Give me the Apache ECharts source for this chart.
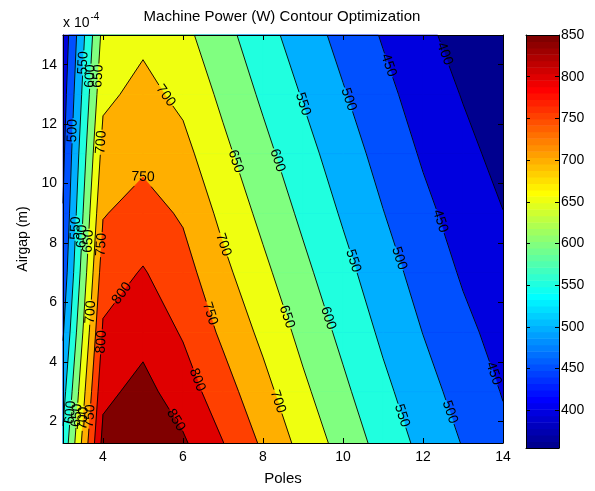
<!DOCTYPE html>
<html>
<head>
<meta charset="utf-8">
<script src="https://cdn.jsdelivr.net/npm/echarts@6/dist/echarts.min.js"></script>
<style>
html,body{margin:0;padding:0;background:#fff;}
#chart{width:595px;height:491px;}
</style>
</head>
<body>
<div id="chart"></div>
<script>
// Grid of the optimisation sweep
const poles = [3, 4, 5, 6, 7, 8, 9, 10, 11, 12, 13, 14];
const airgap = [1.27, 3, 5, 7, 9, 11, 13, 15]; // in units of 1e-4 m

// Machine power (W): one row per airgap value, one column per pole count
const power_g01 = [560, 865, 892, 857, 801, 742, 683.5, 630.6, 581.7, 536.1, 497.5, 461];
const power_g03 = [530, 838, 865.4, 825, 771.5, 716.3, 660.2, 610.2, 562, 518.9, 481.1, 447.4];
const power_g05 = [495, 807, 834.6, 795, 740.4, 688.1, 635.5, 587.6, 540.7, 499.1, 462.3, 432];
const power_g07 = [468, 776.7, 803.8, 769.7, 712.9, 661.5, 612.4, 565.7, 521.1, 480.7, 444.5, 416.4];
const power_g09 = [452, 746.9, 770.4, 743.7, 686.9, 637.2, 589.9, 544.3, 501.5, 462.4, 428.8, 400.9];
const power_g11 = [440, 718.3, 737, 715.1, 662.3, 614.4, 568.2, 524.1, 482.8, 444.5, 413.2, 385.3];
const power_g13 = [428, 689.7, 714, 688.3, 638.9, 591.7, 546.4, 504, 464.3, 427.5, 397.5, 369.8];
const power_g15 = [415, 665, 690, 663.3, 616.7, 569, 524.7, 483.9, 445.7, 410.6, 381.8, 354.8];
const powerRows = [power_g01, power_g03, power_g05, power_g07, power_g09, power_g11, power_g13, power_g15];

// Contour levels and tick labels
const levels = [400, 450, 500, 550, 600, 650, 700, 750, 800, 850];
const xTicks = [4, 6, 8, 10, 12, 14];
const yTicks = [2, 4, 6, 8, 10, 12, 14];
const cbTicks = [400, 450, 500, 550, 600, 650, 700, 750, 800, 850];

// Where each inline contour label sits: [level, poles, airgap]
const labelSpots = [
  [400, 12.47, 14.33],
  [450, 11.06, 13.94], [450, 12.39, 8.72], [450, 13.68, 3.57],
  [500, 10.02, 12.78], [500, 11.31, 7.44], [500, 12.6, 2.28], [500, 3.22, 11.78],
  [550, 8.85, 12.61], [550, 10.1, 7.33], [550, 11.43, 2.17], [550, 3.47, 14.06], [550, 3.31, 8.5],
  [600, 8.22, 10.72], [600, 9.56, 5.44], [600, 3.72, 13.61], [600, 3.47, 8.22], [600, 3.18, 2.3],
  [650, 7.26, 10.72], [650, 8.56, 5.5], [650, 3.92, 13.61], [650, 3.64, 8.06], [650, 3.35, 2.2],
  [700, 5.43, 12.83], [700, 7.01, 7.94], [700, 8.39, 2.67], [700, 3.97, 11.39], [700, 3.72, 5.67], [700, 3.51, 2.1],
  [750, 5.0, 10.3], [750, 6.64, 5.61], [750, 4.04, 7.94], [750, 3.72, 2.17],
  [800, 4.56, 6.22], [800, 6.35, 3.39], [800, 4.02, 4.67],
  [850, 5.77, 2.0]
];

const FONT = '"Liberation Sans", Arial, Helvetica, sans-serif';
const LABEL_SIZE = 14;

// MATLAB-style jet colormap with m entries
function buildJet(m) {
  const n = Math.ceil(m / 4);
  const u = [];
  for (let i = 1; i <= n; i++) u.push(i / n);
  for (let i = 1; i < n; i++) u.push(1);
  for (let i = n; i >= 1; i--) u.push(i / n);
  const g0 = Math.ceil(n / 2) - (m % 4 === 1 ? 1 : 0);
  const out = [];
  for (let k = 0; k < m; k++) out.push([0, 0, 0]);
  for (let i = 0; i < u.length; i++) {
    const g = g0 + i + 1, r = g + n, b = g - n;
    if (r >= 1 && r <= m) out[r - 1][0] = u[i];
    if (g >= 1 && g <= m) out[g - 1][1] = u[i];
    if (b >= 1 && b <= m) out[b - 1][2] = u[i];
  }
  return out;
}
const NCOL = 64;
const jetMap = buildJet(NCOL);
const cMin = Math.min.apply(null, powerRows.map(r => Math.min.apply(null, r)));
const cMax = levels[levels.length - 1];
function rgb(c) {
  return 'rgb(' + Math.round(c[0] * 255) + ',' + Math.round(c[1] * 255) + ',' + Math.round(c[2] * 255) + ')';
}
function colorOf(v) {
  let k = Math.floor((v - cMin) / (cMax - cMin) * NCOL);
  k = Math.max(0, Math.min(NCOL - 1, k));
  return rgb(jetMap[k]);
}

// Region of one grid cell where power >= L, plus where the L contour crosses the cell edges
function cellCut(L, i, j) {
  const cs = [
    [poles[i], airgap[j], powerRows[j][i]],
    [poles[i + 1], airgap[j], powerRows[j][i + 1]],
    [poles[i + 1], airgap[j + 1], powerRows[j + 1][i + 1]],
    [poles[i], airgap[j + 1], powerRows[j + 1][i]]
  ];
  const poly = [], cross = [];
  for (let k = 0; k < 4; k++) {
    const a = cs[k], b = cs[(k + 1) % 4];
    const ia = a[2] >= L, ib = b[2] >= L;
    if (ia) poly.push([a[0], a[1]]);
    if (ia !== ib) {
      const t = (L - a[2]) / (b[2] - a[2]);
      const p = [a[0] + t * (b[0] - a[0]), a[1] + t * (b[1] - a[1])];
      poly.push(p);
      cross.push(p);
    }
  }
  return { poly, cross };
}

function clipOutsideCircle(p, q, c, r) {
  const dx = q[0] - p[0], dy = q[1] - p[1];
  const fx = p[0] - c[0], fy = p[1] - c[1];
  const A = dx * dx + dy * dy, B = 2 * (fx * dx + fy * dy), C = fx * fx + fy * fy - r * r;
  const D = B * B - 4 * A * C;
  if (A === 0 || D <= 0) return [[p, q]];
  const s = Math.sqrt(D);
  const t1 = (-B - s) / (2 * A), t2 = (-B + s) / (2 * A);
  const a = Math.max(0, t1), b = Math.min(1, t2);
  if (a >= b) return [[p, q]];
  const out = [];
  const at = t => [p[0] + t * dx, p[1] + t * dy];
  if (a > 0) out.push([p, at(a)]);
  if (b < 1) out.push([at(b), q]);
  return out;
}

function orient(dx, dy) {
  const len = Math.hypot(dx, dy) || 1;
  dx /= len; dy /= len;
  if (dx < -1e-9 || (Math.abs(dx) <= 1e-9 && dy < 0)) { dx = -dx; dy = -dy; }
  return [dx, dy];
}

function renderContour(params, api) {
  const P = (x, y) => api.coord([x, y]);
  const children = [];
  const nx = poles.length, ny = airgap.length;
  const corners = [P(poles[0], airgap[0]), P(poles[nx - 1], airgap[0]), P(poles[nx - 1], airgap[ny - 1]), P(poles[0], airgap[ny - 1])];
  children.push({ type: 'polygon', shape: { points: corners }, style: { fill: colorOf(cMin) }, silent: true });

  const segs = {};
  levels.forEach(L => {
    const fill = colorOf(L);
    segs[L] = [];
    for (let j = 0; j < ny - 1; j++) {
      for (let i = 0; i < nx - 1; i++) {
        const cut = cellCut(L, i, j);
        if (cut.poly.length >= 3) {
          children.push({
            type: 'polygon',
            shape: { points: cut.poly.map(p => P(p[0], p[1])) },
            style: { fill: fill, stroke: fill, lineWidth: 0.6, lineJoin: 'round' },
            silent: true
          });
        }
        const cr = cut.cross.map(p => P(p[0], p[1]));
        if (cr.length === 2) segs[L].push([cr[0], cr[1]]);
        else if (cr.length === 4) { segs[L].push([cr[0], cr[1]]); segs[L].push([cr[2], cr[3]]); }
      }
    }
  });

  // inline labels: snap to the nearest point of the contour and follow its direction
  const texts = [];
  labelSpots.forEach(spot => {
    const L = spot[0];
    const s = P(spot[1], spot[2]);
    const cands = [];
    (segs[L] || []).forEach(sg => {
      const p = sg[0], q = sg[1];
      const dx = q[0] - p[0], dy = q[1] - p[1];
      const len2 = dx * dx + dy * dy;
      let t = len2 > 0 ? ((s[0] - p[0]) * dx + (s[1] - p[1]) * dy) / len2 : 0;
      t = Math.max(0, Math.min(1, t));
      const c = [p[0] + t * dx, p[1] + t * dy];
      cands.push({ d: Math.hypot(c[0] - s[0], c[1] - s[1]), c: c, dir: orient(dx, dy) });
    });
    if (!cands.length) return;
    cands.sort((a, b) => a.d - b.d);
    const best = cands[0];
    // at a corner of the contour, blend the directions of the segments meeting there
    let ux = 0, uy = 0;
    cands.forEach(cd => {
      if (Math.hypot(cd.c[0] - best.c[0], cd.c[1] - best.c[1]) < 0.75) { ux += cd.dir[0]; uy += cd.dir[1]; }
    });
    const ang = Math.atan2(uy, ux);
    const r = LABEL_SIZE * 0.9;
    segs[L] = segs[L].reduce((acc, sg) => acc.concat(clipOutsideCircle(sg[0], sg[1], best.c, r)), []);
    texts.push({
      type: 'text',
      x: best.c[0], y: best.c[1],
      rotation: -ang,
      silent: true,
      style: { text: String(L), fill: '#000', fontSize: LABEL_SIZE, fontFamily: FONT, align: 'center', verticalAlign: 'middle' }
    });
  });

  levels.forEach(L => {
    segs[L].forEach(sg => {
      children.push({
        type: 'line',
        shape: { x1: sg[0][0], y1: sg[0][1], x2: sg[1][0], y2: sg[1][1] },
        style: { stroke: '#000', lineWidth: 0.9 },
        silent: true
      });
    });
  });
  return { type: 'group', children: children.concat(texts) };
}

// Colour bar: one band per colormap entry
const cbBands = jetMap.map((c, k) => k);
function renderColorbar(params, api) {
  const k = api.value(0);
  const lo = cMin + k * (cMax - cMin) / NCOL;
  const hi = cMin + (k + 1) * (cMax - cMin) / NCOL;
  const p0 = api.coord([0, lo]), p1 = api.coord([1, hi]);
  return {
    type: 'rect',
    shape: { x: p0[0], y: p1[1], width: p1[0] - p0[0], height: p0[1] - p1[1] + 0.5 },
    style: { fill: rgb(jetMap[k]) },
    silent: true
  };
}

const lineBlack = { show: true, onZero: false, lineStyle: { color: '#000', width: 1 } };
const tickIn = vals => ({ show: true, inside: true, length: 5, customValues: vals, lineStyle: { color: '#000', width: 1 } });
const noLabel = { show: false };
const noSplit = { show: false };

const chart = echarts.init(document.getElementById('chart'), null, { renderer: 'canvas' });
chart.setOption({
  animation: false,
  backgroundColor: '#fff',
  title: {
    text: 'Machine Power (W) Contour Optimization',
    left: 282, top: 9, textAlign: 'center', padding: 0,
    textStyle: { fontSize: 15, fontWeight: 'normal', color: '#000', fontFamily: FONT }
  },
  graphic: [{
    type: 'text', left: 63, top: 10, silent: true,
    style: {
      text: '{b|x 10}{s|-4}', fill: '#000',
      rich: {
        b: { fontSize: 14, fontFamily: FONT, color: '#000', verticalAlign: 'bottom', lineHeight: 18, padding: [6, 0, 0, 0] },
        s: { fontSize: 10, fontFamily: FONT, color: '#000', verticalAlign: 'top', lineHeight: 12, padding: [0, 0, 10, 1] }
      }
    }
  }],
  grid: [
    { left: 63, top: 35, width: 440, height: 412 },
    { left: 526, top: 35, width: 33, height: 413 }
  ],
  xAxis: [
    { gridIndex: 0, type: 'value', min: 3, max: 14, position: 'bottom', z: 10,
      name: 'Poles', nameLocation: 'middle', nameGap: 28,
      nameTextStyle: { fontSize: 15, color: '#000', fontFamily: FONT },
      axisLine: lineBlack, axisTick: tickIn(xTicks),
      axisLabel: { customValues: xTicks, color: '#000', fontSize: 14, margin: 7, fontFamily: FONT },
      splitLine: noSplit },
    { gridIndex: 0, type: 'value', min: 3, max: 14, position: 'top', z: 10,
      axisLine: lineBlack, axisTick: tickIn(xTicks), axisLabel: noLabel, splitLine: noSplit },
    { gridIndex: 1, type: 'value', min: 0, max: 1, position: 'bottom', z: 10,
      axisLine: lineBlack, axisTick: { show: false }, axisLabel: noLabel, splitLine: noSplit },
    { gridIndex: 1, type: 'value', min: 0, max: 1, position: 'top', z: 10,
      axisLine: lineBlack, axisTick: { show: false }, axisLabel: noLabel, splitLine: noSplit }
  ],
  yAxis: [
    { gridIndex: 0, type: 'value', min: airgap[0], max: airgap[airgap.length - 1], position: 'left', z: 10,
      name: 'Airgap (m)', nameLocation: 'middle', nameGap: 26, nameRotate: 90,
      nameTextStyle: { fontSize: 14, color: '#000', fontFamily: FONT },
      axisLine: lineBlack, axisTick: tickIn(yTicks),
      axisLabel: { customValues: yTicks, color: '#000', fontSize: 14, margin: 6, fontFamily: FONT },
      splitLine: noSplit },
    { gridIndex: 0, type: 'value', min: airgap[0], max: airgap[airgap.length - 1], position: 'right', z: 10,
      axisLine: lineBlack, axisTick: tickIn(yTicks), axisLabel: noLabel, splitLine: noSplit },
    { gridIndex: 1, type: 'value', min: cMin, max: cMax, position: 'right', z: 10,
      axisLine: lineBlack, axisTick: { show: true, inside: true, length: 4, customValues: cbTicks, lineStyle: { color: '#000' } },
      axisLabel: { customValues: cbTicks, color: '#000', fontSize: 14, margin: 2, fontFamily: FONT },
      splitLine: noSplit },
    { gridIndex: 1, type: 'value', min: cMin, max: cMax, position: 'left', z: 10,
      axisLine: lineBlack, axisTick: { show: true, inside: true, length: 4, customValues: cbTicks, lineStyle: { color: '#000' } },
      axisLabel: noLabel, splitLine: noSplit }
  ],
  series: [
    { type: 'custom', name: 'power', xAxisIndex: 0, yAxisIndex: 0, data: [[0]], renderItem: renderContour, silent: true },
    { type: 'custom', name: 'colorbar', xAxisIndex: 2, yAxisIndex: 2, data: cbBands.map(k => [k]), renderItem: renderColorbar, silent: true }
  ]
});
</script>
</body>
</html>
